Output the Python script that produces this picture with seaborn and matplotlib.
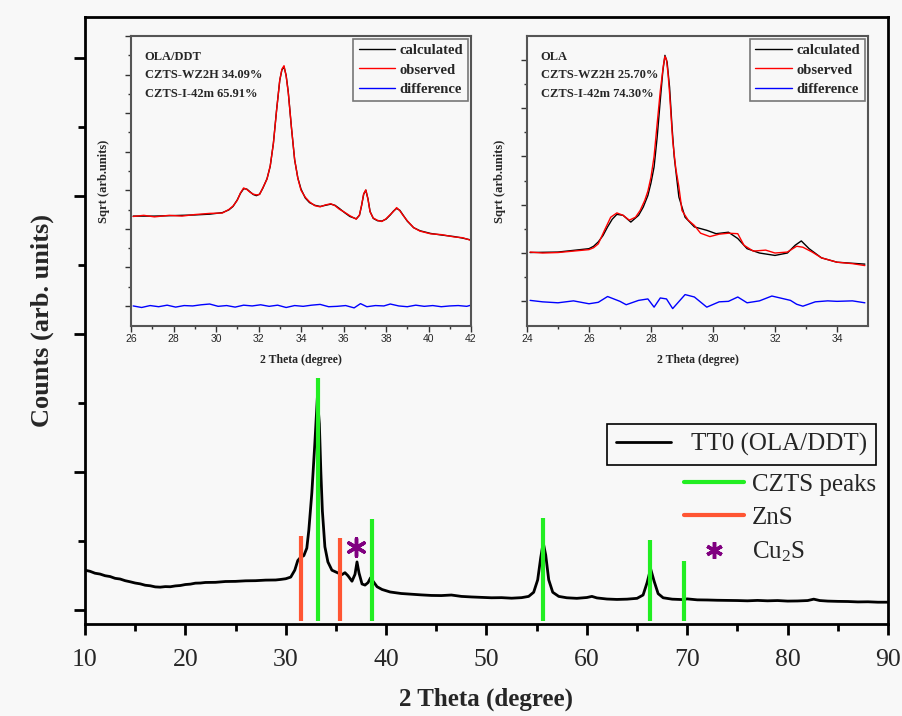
import numpy as np
import pandas as pd
import matplotlib
matplotlib.use('Agg')
import matplotlib.pyplot as plt
from matplotlib.lines import Line2D
import seaborn as sns

# main XRD pattern (TT0, OLA/DDT)
main_x = [10.0, 10.5, 11.0, 11.5, 12.0, 12.5, 13.0, 13.5, 14.0, 14.5, 15.0, 15.5,
          16.0, 16.5, 17.0, 17.5, 18.0, 18.5, 19.0, 19.5, 20.0, 20.5, 21.0, 21.5,
          22.0, 23.0, 24.0, 25.0, 26.0, 27.0, 28.0, 29.0, 29.5, 30.0, 30.5, 30.9,
          31.2, 31.5, 31.8, 32.1, 32.3, 32.6, 32.9, 33.15, 33.35, 33.5, 33.65, 33.9,
          34.2, 34.6, 35.2, 35.6, 35.9, 36.2, 36.6, 36.9, 37.1, 37.3, 37.6, 37.9,
          38.2, 38.45, 38.8, 39.1, 39.6, 40.4, 41.5, 42.5, 43.5, 44.5, 45.5, 46.5,
          47.5, 48.5, 49.5, 50.5, 51.5, 52.5, 53.5, 54.2, 54.7, 55.1, 55.4, 55.65,
          55.9, 56.2, 56.6, 57.2, 58.0, 59.0, 60.0, 60.5, 61.0, 62.0, 63.0, 64.0,
          65.0, 65.6, 66.0, 66.35, 66.7, 67.1, 67.6, 68.5, 69.5, 70.0, 71.0, 72.0,
          73.0, 74.0, 75.0, 76.0, 77.0, 78.0, 79.0, 80.0, 81.0, 82.0, 82.6, 83.2,
          84.0, 85.0, 86.0, 87.0, 88.0, 89.0, 90.0]
main_y = [0.290, 0.282, 0.268, 0.262, 0.250, 0.244, 0.231, 0.226, 0.214, 0.206, 0.197, 0.191,
          0.181, 0.177, 0.169, 0.167, 0.171, 0.170, 0.176, 0.179, 0.186, 0.189, 0.196, 0.197,
          0.201, 0.202, 0.208, 0.209, 0.213, 0.214, 0.218, 0.219, 0.223, 0.228, 0.240, 0.290,
          0.360, 0.385, 0.395, 0.450, 0.580, 0.850, 1.210, 1.540, 1.350, 1.000, 0.720, 0.460,
          0.350, 0.290, 0.270, 0.258, 0.272, 0.250, 0.210, 0.260, 0.350, 0.270, 0.190, 0.182,
          0.200, 0.235, 0.200, 0.170, 0.150, 0.132, 0.121, 0.116, 0.111, 0.107, 0.106, 0.110,
          0.100, 0.096, 0.093, 0.090, 0.091, 0.087, 0.091, 0.100, 0.130, 0.220, 0.380, 0.490,
          0.400, 0.220, 0.130, 0.100, 0.090, 0.086, 0.092, 0.100, 0.089, 0.081, 0.078, 0.080,
          0.086, 0.110, 0.200, 0.300, 0.210, 0.120, 0.090, 0.080, 0.077, 0.082, 0.075, 0.074,
          0.072, 0.071, 0.070, 0.068, 0.071, 0.068, 0.070, 0.066, 0.067, 0.070, 0.080, 0.070,
          0.066, 0.064, 0.063, 0.060, 0.061, 0.058, 0.058]

# reference peak positions and marker heights
czts_pos = [33.2, 38.6, 55.6, 66.3, 69.7]
czts_top = [1.68, 0.66, 0.67, 0.51, 0.36]
zns_pos = [31.5, 35.4]
zns_top = [0.54, 0.52]
cu2s_pos = [37.0]
cu2s_y = [0.46]
peak_bottom = -0.08

# inset 1: OLA/DDT refinement
in1_x = [26.1, 26.6, 27.1, 27.8, 28.4, 29.0, 29.7, 30.3, 30.6, 30.8, 31.0, 31.15,
         31.3, 31.45, 31.6, 31.75, 31.9, 32.05, 32.2, 32.4, 32.55, 32.7, 32.85, 33.0,
         33.1, 33.2, 33.3, 33.4, 33.55, 33.7, 33.85, 34.0, 34.2, 34.4, 34.65, 34.9,
         35.15, 35.4, 35.6, 35.8, 36.05, 36.3, 36.6, 36.75, 36.85, 36.95, 37.05, 37.15,
         37.25, 37.4, 37.6, 37.8, 38.0, 38.2, 38.35, 38.5, 38.65, 38.8, 39.0, 39.3,
         39.6, 40.1, 40.6, 41.2, 41.6, 42.0]
in1_calc = [2.33, 2.33, 2.33, 2.34, 2.35, 2.36, 2.38, 2.42, 2.49, 2.58, 2.75, 2.92,
            3.04, 3.03, 2.96, 2.89, 2.86, 2.90, 3.05, 3.30, 3.62, 4.22, 5.08, 5.85,
            6.12, 6.20, 5.98, 5.55, 4.62, 3.79, 3.32, 3.03, 2.80, 2.68, 2.61, 2.58,
            2.61, 2.64, 2.61, 2.53, 2.42, 2.32, 2.26, 2.35, 2.60, 2.90, 3.00, 2.78,
            2.45, 2.27, 2.21, 2.20, 2.25, 2.36, 2.46, 2.53, 2.48, 2.36, 2.20, 2.03,
            1.95, 1.88, 1.84, 1.80, 1.76, 1.71]
in1_obs = [2.32, 2.35, 2.31, 2.35, 2.33, 2.37, 2.40, 2.41, 2.50, 2.59, 2.74, 2.93,
           3.06, 3.02, 2.95, 2.90, 2.88, 2.89, 3.06, 3.29, 3.63, 4.21, 5.07, 5.86,
           6.14, 6.23, 5.96, 5.53, 4.63, 3.80, 3.31, 3.00, 2.82, 2.70, 2.60, 2.57,
           2.62, 2.65, 2.60, 2.51, 2.43, 2.34, 2.25, 2.36, 2.61, 2.91, 3.01, 2.77,
           2.44, 2.28, 2.22, 2.19, 2.26, 2.37, 2.45, 2.55, 2.47, 2.35, 2.21, 2.03,
           1.94, 1.87, 1.85, 1.79, 1.77, 1.70]
in1_diff_x = [26.1, 26.5, 26.9, 27.3, 27.7, 28.1, 28.5, 28.9, 29.3, 29.7, 30.1, 30.5,
              30.9, 31.3, 31.7, 32.1, 32.5, 32.9, 33.3, 33.7, 34.1, 34.5, 34.9, 35.3,
              35.7, 36.1, 36.5, 36.8, 37.1, 37.5, 37.9, 38.2, 38.6, 39.0, 39.4, 39.8,
              40.2, 40.6, 41.0, 41.4, 41.8, 42.0]
in1_diff = [0.00, -0.04, 0.01, -0.02, 0.02, -0.03, 0.01, 0.00, 0.03, 0.05, -0.01, 0.01,
            -0.03, 0.02, 0.00, 0.03, -0.01, 0.02, -0.04, 0.01, -0.01, 0.02, 0.04, -0.02,
            -0.01, 0.01, -0.05, 0.06, -0.02, 0.01, 0.00, 0.05, 0.00, -0.02, 0.02, -0.01,
            0.01, -0.02, 0.00, 0.01, -0.01, 0.02]

# inset 2: OLA refinement
in2_obs_x = [24.1, 24.5, 25.0, 25.5, 26.0, 26.15, 26.3, 26.5, 26.7, 26.9, 27.1, 27.3,
             27.5, 27.65, 27.8, 27.9, 28.0, 28.1, 28.2, 28.3, 28.4, 28.45, 28.5, 28.55,
             28.6, 28.7, 28.8, 28.9, 29.0, 29.2, 29.4, 29.6, 29.9, 30.2, 30.5, 30.8,
             31.0, 31.3, 31.7, 32.0, 32.4, 32.7, 32.9, 33.2, 33.5, 34.0, 34.5, 34.9]
in2_obs = [1.02, 1.00, 1.01, 1.04, 1.07, 1.11, 1.19, 1.47, 1.74, 1.83, 1.78, 1.68,
           1.74, 1.88, 2.09, 2.28, 2.57, 3.00, 3.68, 4.35, 4.88, 5.07, 5.00, 4.71,
           4.30, 3.33, 2.75, 2.37, 1.88, 1.68, 1.57, 1.41, 1.34, 1.39, 1.41, 1.40,
           1.16, 1.04, 1.06, 1.00, 1.02, 1.14, 1.12, 1.02, 0.90, 0.81, 0.78, 0.74]
in2_calc_x = [24.1, 25.0, 26.0, 26.15, 26.3, 26.45, 26.6, 26.75, 26.9, 27.1, 27.35, 27.6,
              27.75, 27.9, 28.0, 28.1, 28.2, 28.3, 28.38, 28.45, 28.52, 28.6, 28.68, 28.75,
              28.9, 29.1, 29.4, 29.8, 30.1, 30.5, 30.8, 31.1, 31.5, 32.0, 32.4, 32.65,
              32.85, 33.1, 33.5, 34.0, 34.9]
in2_calc = [1.01, 1.02, 1.09, 1.14, 1.23, 1.36, 1.54, 1.70, 1.80, 1.78, 1.64, 1.78,
            1.95, 2.19, 2.45, 2.78, 3.40, 4.16, 4.75, 5.09, 4.95, 4.43, 3.60, 2.99,
            2.16, 1.74, 1.54, 1.47, 1.40, 1.43, 1.30, 1.09, 1.00, 0.95, 1.00, 1.16,
            1.25, 1.09, 0.90, 0.81, 0.77]
in2_diff_x = [24.1, 24.5, 25.0, 25.5, 26.0, 26.3, 26.6, 27.0, 27.2, 27.6, 27.9, 28.1,
              28.3, 28.5, 28.7, 29.1, 29.4, 29.8, 30.2, 30.5, 30.8, 31.1, 31.5, 31.9,
              32.5, 32.7, 32.9, 33.3, 33.7, 34.0, 34.5, 34.9]
in2_diff = [0.02, -0.01, -0.03, 0.01, -0.05, -0.02, 0.10, 0.00, -0.07, 0.02, 0.05, -0.12,
            0.07, 0.05, -0.15, 0.14, 0.09, -0.12, -0.01, 0.00, 0.09, -0.03, 0.01, 0.11,
            0.02, -0.06, -0.10, -0.01, 0.01, 0.00, 0.01, -0.03]

sns.set_theme(style='ticks')
plt.rcParams['font.family'] = ['Liberation Serif', 'DejaVu Serif']
plt.rcParams['mathtext.fontset'] = 'custom'
plt.rcParams['mathtext.rm'] = 'Liberation Serif'
plt.rcParams['mathtext.it'] = 'Liberation Serif:italic'

bg = '#f8f8f8'
fig = plt.figure(figsize=(9.03, 7.16), dpi=100, facecolor=bg)
ax = fig.add_axes([0.0941, 0.1285, 0.8893, 0.8478], facecolor=bg)

sns.lineplot(x=main_x, y=main_y, color='black', lw=2, ax=ax, sort=False,
             label='TT0 (OLA/DDT)')
ax.vlines(czts_pos, peak_bottom, czts_top, color='#22ee22', lw=3)
ax.vlines(zns_pos, peak_bottom, zns_top, color='#ff5533', lw=3)
ax.scatter(cu2s_pos, cu2s_y, marker=(6, 2, 0), s=160, color='#800080',
           linewidths=2.5, zorder=5)

ax.set_xlim(10, 90)
ax.set_ylim(-0.1, 4.3)
ax.set_xticks(np.arange(10, 91, 10))
ax.set_xticks(np.arange(15, 90, 10), minor=True)
ax.set_yticks([0, 1, 2, 3, 4])
ax.set_yticks([0.5, 1.5, 2.5, 3.5], minor=True)
ax.set_yticklabels([])
ax.tick_params(axis='both', which='major', direction='out', length=8, width=2,
               labelsize=18.5, color='black', pad=10)
ax.tick_params(axis='both', which='minor', direction='out', length=5, width=2,
               color='black')
for s in ax.spines.values():
    s.set_linewidth(2)
    s.set_color('black')
ax.set_xlabel('2 Theta (degree)', fontsize=18, fontweight='bold', labelpad=12)
ax.set_ylabel('Counts (arb. units)', fontsize=19, fontweight='bold', labelpad=4)

leg1 = ax.legend(loc='upper right', bbox_to_anchor=(0.985, 0.329), fontsize=18,
                 frameon=True, fancybox=False, edgecolor='black', framealpha=1,
                 facecolor=bg, handlelength=2.2, borderpad=0.35, borderaxespad=0)
leg1.get_frame().set_linewidth(1.2)
ax.add_artist(leg1)

peak_handles = [
    Line2D([], [], color='#22ee22', lw=3),
    Line2D([], [], color='#ff5533', lw=3),
    Line2D([], [], ls='none', marker=(6, 2, 0), ms=12, mew=2.5, color='#800080'),
]
ax.legend(peak_handles, ['CZTS peaks', 'ZnS', r'Cu$_2$S'], loc='upper left',
          bbox_to_anchor=(0.718, 0.285), fontsize=18, frameon=False,
          handlelength=2.4, handletextpad=0.3, labelspacing=0.42)


def draw_inset(rect, xlim, ylim, xmajor, obs_x, obs, calc_x, calc, diff_x, diff, lines):
    ins = fig.add_axes(rect, facecolor=bg)
    sns.lineplot(x=calc_x, y=calc, color='black', lw=1, ax=ins, sort=False,
                 label='calculated')
    sns.lineplot(x=obs_x, y=obs, color='red', lw=1, ax=ins, sort=False,
                 label='observed')
    sns.lineplot(x=diff_x, y=diff, color='blue', lw=1, ax=ins, sort=False,
                 label='difference')
    ins.set_xlim(*xlim)
    ins.set_ylim(*ylim)
    ins.set_xticks(xmajor)
    ins.set_xticks(np.arange(xlim[0] + 1, xlim[1], 2), minor=True)
    ins.set_yticks(np.arange(0, int(ylim[1]) + 1, 1))
    ins.set_yticks(np.arange(0.5, ylim[1], 1), minor=True)
    ins.set_yticklabels([])
    for lab in ins.get_xticklabels():
        lab.set_family(['Liberation Sans', 'DejaVu Sans'])
    ins.tick_params(axis='both', which='major', direction='out', length=4, width=1,
                    labelsize=7.5, pad=2, color='#333333')
    ins.tick_params(axis='both', which='minor', direction='out', length=2.5, width=1,
                    color='#333333')
    for s in ins.spines.values():
        s.set_linewidth(1.5)
        s.set_color('#555555')
    ins.set_xlabel('2 Theta (degree)', fontsize=8.5, fontweight='bold', labelpad=7)
    ins.set_ylabel('Sqrt (arb.units)', fontsize=9, fontweight='bold', labelpad=9)
    leg = ins.legend(loc='upper right', frameon=True, fancybox=False,
                     edgecolor='#777777', framealpha=1, facecolor=bg,
                     handlelength=2.5, handletextpad=0.3, borderpad=0.35,
                     labelspacing=0.42, borderaxespad=0.2,
                     prop={'weight': 'bold', 'size': 10.5})
    leg.get_frame().set_linewidth(1.2)
    ins.text(0.04, 0.95, '\n'.join(lines), transform=ins.transAxes, ha='left',
             va='top', fontsize=9, fontweight='bold', linespacing=1.75)
    return ins


draw_inset([0.1451, 0.5447, 0.3765, 0.405], (26, 42), (-0.52, 7.0),
           np.arange(26, 43, 2), in1_x, in1_obs, in1_x, in1_calc,
           in1_diff_x, in1_diff,
           ['OLA/DDT', 'CZTS-WZ2H 34.09%', 'CZTS-I-42m 65.91%'])
draw_inset([0.5836, 0.5447, 0.3776, 0.405], (24, 35), (-0.51, 5.49),
           np.arange(24, 35, 2), in2_obs_x, in2_obs, in2_calc_x, in2_calc,
           in2_diff_x, in2_diff,
           ['OLA', 'CZTS-WZ2H 25.70%', 'CZTS-I-42m 74.30%'])

fig.savefig('out.png', dpi=100, facecolor=bg)
